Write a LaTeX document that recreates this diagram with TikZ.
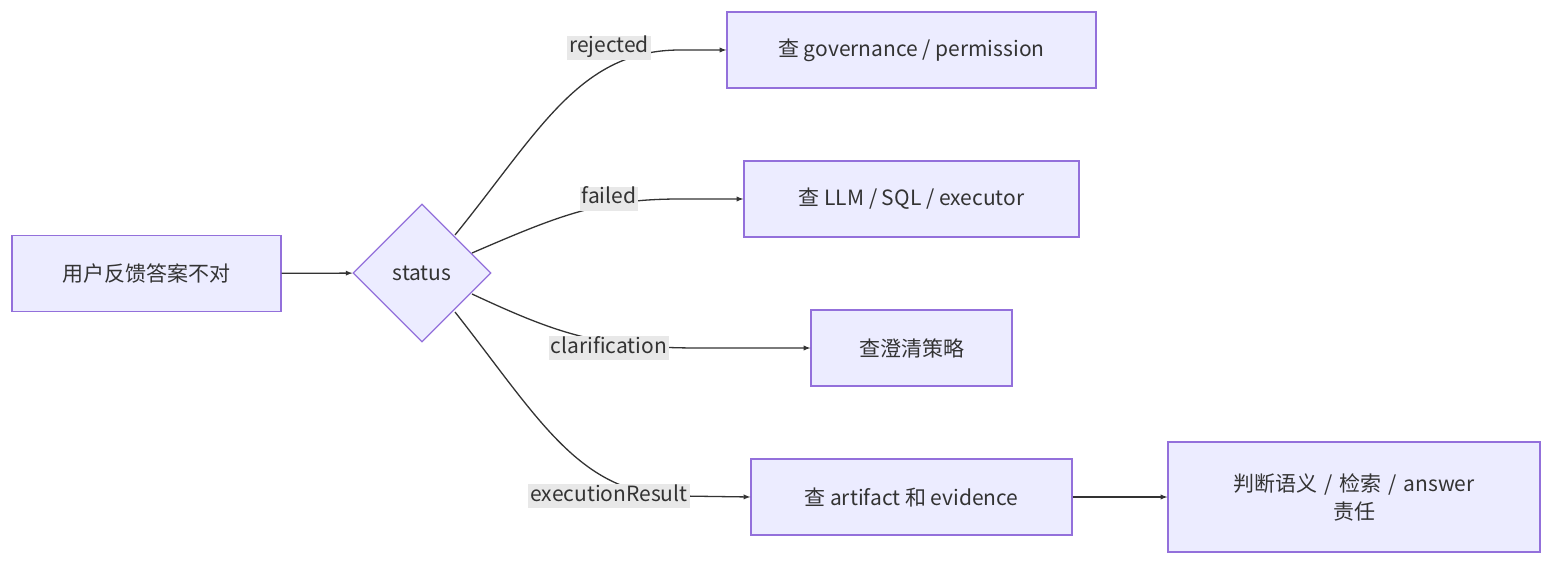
\documentclass[tikz,border=0pt]{standalone}
\usepackage{fontspec}
\setmainfont{Noto Sans CJK SC}
\usetikzlibrary{shapes.geometric,positioning}
\definecolor{boxfill}{HTML}{ECECFF}
\definecolor{boxline}{HTML}{9370DB}
\definecolor{ink}{HTML}{333333}
\definecolor{lblbg}{HTML}{E8E8E8}
\begin{document}
\begin{tikzpicture}[x=1pt,y=-1pt,font=\fontsize{21}{28}\selectfont,text=ink]
\tikzset{
  box/.style={draw=boxline,fill=boxfill,line width=1.3pt,minimum height=76pt,inner sep=0pt,align=center},
  dec/.style={diamond,draw=boxline,fill=boxfill,line width=1.3pt,minimum width=138pt,minimum height=138pt,inner sep=0pt},
  lbl/.style={fill=lblbg,inner sep=2pt,text height=15pt,text depth=5pt},
  edge/.style={draw=ink,line width=1.3pt,-latex}
}
\useasboundingbox (0,0) rectangle (1568,572);
% nodes
\node[box,minimum width=269pt] (fb) at (146.5,273.5) {用户反馈答案不对};
\node[dec] (st) at (422,273) {status};
\node[box,minimum width=369pt] (gov) at (911.5,50) {查 governance / permission};
\node[box,minimum width=335pt] (llm) at (911.5,199) {查 LLM / SQL / executor};
\node[box,minimum width=201pt] (clr) at (911.5,348) {查澄清策略};
\node[box,minimum width=321pt] (art) at (911.5,497) {查 artifact 和 evidence};
\node[box,minimum width=372pt,minimum height=110pt,text width=300pt] (jud) at (1354,497) {判断语义 / 检索 / answer\\责任};
% edges
\draw[edge] (fb) -- (st);
\draw[edge] (455,235) .. controls (540,130) and (580,50) .. (680,50) -- (gov.west);
\draw[edge] (472,253) .. controls (560,215) and (600,199) .. (680,199) -- (llm.west);
\draw[edge] (472,294) .. controls (560,335) and (600,348) .. (700,348) -- (clr.west);
\draw[edge] (455,312) .. controls (540,420) and (580,496) .. (680,496) -- (art.west);
\draw[edge] (art) -- (jud);
% labels
\node[lbl] (l1) at (609,48) {rejected};
\node[lbl] (l2) at (609,199) {failed};
\node[lbl] (l3) at (609,348) {clarification};
\node[lbl] (l4) at (609,496) {executionResult};
\end{tikzpicture}
\end{document}
